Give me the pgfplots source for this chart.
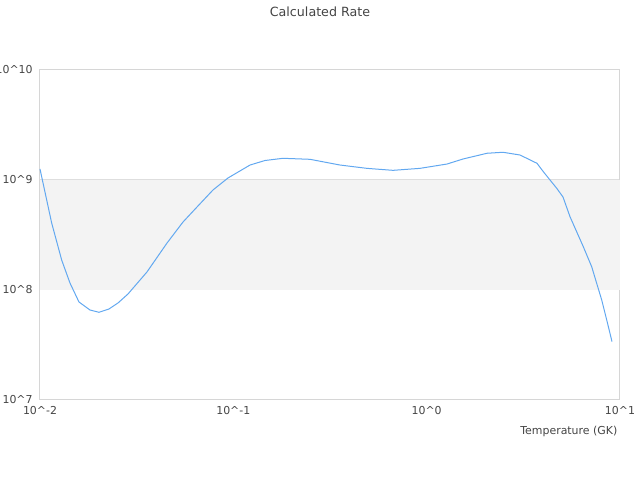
\documentclass[border=0pt]{standalone}
\usepackage{pgfplots}
\pgfplotsset{compat=1.18}
\usepackage{fontspec}
\setmainfont{DejaVu Sans}
\definecolor{txt}{HTML}{444444}
\definecolor{axl}{HTML}{D6D6D6}
\definecolor{grd}{HTML}{DEDEDE}
\definecolor{band}{HTML}{F3F3F3}
\definecolor{ln}{HTML}{62A8F0}
\begin{document}
\begin{tikzpicture}[x=0.75pt,y=0.75pt]
\useasboundingbox (-40,-80) rectangle (600,400);
\begin{axis}[
  at={(0,0)}, anchor=south west,
  scale only axis, width=435pt, height=247.5pt,
  xmode=log, ymode=log,
  xmin=0.01, xmax=10, ymin=1e7, ymax=1e10,
  xtick={0.01,0.1,1,10},
  xticklabels={10\textasciicircum-2,10\textasciicircum-1,10\textasciicircum0,10\textasciicircum1},
  ytick={1e7,1e8,1e9,1e10},
  yticklabels={10\textasciicircum7,10\textasciicircum8,10\textasciicircum9,10\textasciicircum10},
  minor tick num=0, minor xtick={}, minor ytick={},
  major tick length=0pt, minor tick length=0pt,
  axis line style={axl, line width=0.75pt},
  ymajorgrids, grid style={grd, line width=0.75pt},
  tick label style={font=\fontsize{8.2pt}{10pt}\selectfont, text=txt},
  xticklabel style={yshift=-1pt},
  yticklabel style={xshift=-2pt},
  clip=false,
]
\fill[band] (axis cs:0.01,1e8) rectangle (axis cs:10,1e9);
\addplot[ln, line width=0.75pt, no marks] coordinates {
(0.0100,1.26e9)
(0.01149,4.07e8)
(0.01295,1.87e8)
(0.01429,1.158e8)
(0.01591,7.78e7)
(0.01814,6.58e7)
(0.02019,6.27e7)
(0.02274,6.72e7)
(0.02532,7.62e7)
(0.02851,9.19e7)
(0.03575,1.458e8)
(0.04538,2.67e8)
(0.05492,4.15e8)
(0.06488,5.68e8)
(0.07847,8.11e8)
(0.09385,1.043e9)
(0.1220,1.368e9)
(0.1458,1.504e9)
(0.1807,1.575e9)
(0.2492,1.542e9)
(0.3562,1.368e9)
(0.4913,1.276e9)
(0.6698,1.224e9)
(0.9237,1.276e9)
(1.274,1.397e9)
(1.542,1.552e9)
(2.051,1.750e9)
(2.482,1.787e9)
(3.040,1.687e9)
(3.721,1.419e9)
(4.013,1.190e9)
(4.345,1.0e9)
(4.707,8.41e8)
(5.073,7.0e8)
(5.513,4.64e8)
(6.460,2.475e8)
(7.139,1.628e8)
(8.043,8.11e7)
(8.538,5.34e7)
(9.093,3.39e7)
};
\end{axis}
\node[font=\fontsize{9.5pt}{11pt}\selectfont, text=txt] at (280,388) {Calculated Rate};
\node[font=\fontsize{8.2pt}{10pt}\selectfont, text=txt, anchor=east] at (582,-31) {Temperature (GK)};
\end{tikzpicture}
\end{document}
